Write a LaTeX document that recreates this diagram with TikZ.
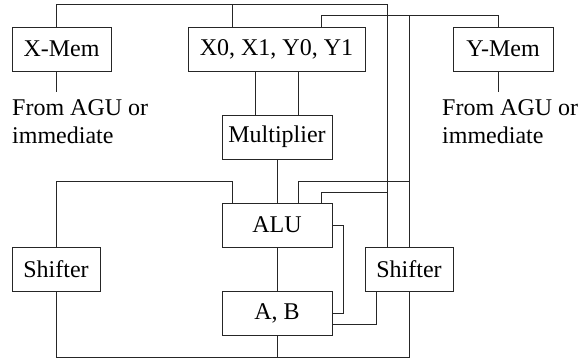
\documentclass[tikz,border=0pt]{standalone}
\usepackage{fontspec}
\setmainfont{Liberation Serif}
\begin{document}
\begin{tikzpicture}[x=1pt,y=-1pt,
  lbl/.style={font=\fontsize{24}{28}\selectfont, inner sep=0pt},
  box/.style={draw=black!85, line width=1pt, minimum height=44pt, inner sep=0pt, font=\fontsize{24}{28}\selectfont},
  wire/.style={draw=black!85, line width=1pt}]
\useasboundingbox (0,0) rectangle (582,360);
% boxes
\node[box, minimum width=99pt]  (xmem)   at (61.5,49) {X-Mem};
\node[box, minimum width=177pt] (regs)   at (276.5,49) {X0, X1, Y0, Y1};
\node[box, minimum width=100pt] (ymem)   at (503,49) {Y-Mem};
\node[box, minimum width=110pt] (mult)   at (277,137) {Multiplier};
\node[box, minimum width=110pt] (alu)    at (277,225) {ALU};
\node[box, minimum width=110pt] (ab)     at (277,313) {A, B};
\node[box, minimum width=88pt]  (lshift) at (56,269) {Shifter};
\node[box, minimum width=88pt]  (rshift) at (409,269) {Shifter};
% labels
\node[lbl, anchor=base west] (fl1) at (12,115) {From AGU or};
\node[lbl, anchor=base west] (fl2) at (12,143) {immediate};
\node[lbl, anchor=base west] (fr1) at (442,115) {From AGU or};
\node[lbl, anchor=base west] (fr2) at (442,143) {immediate};
% coordinates
\coordinate (xin) at (56,92);
\coordinate (yin) at (498,92);
\coordinate (t1) at (387,4.5);
\coordinate (t2) at (498,15.7);
\coordinate (j1) at (409,181);
\coordinate (j2) at (387,192);
\coordinate (j3) at (56,181);
\coordinate (bot) at (409,357);
% wires
\draw[wire] ([xshift=-5.5pt]xmem.north) |- (t1) -- ([xshift=-22pt]rshift.north);
\draw[wire] ([xshift=-44.5pt]regs.north) -- ++(0,-22.5);
\draw[wire] ([xshift=44.5pt]regs.north) |- (t2) -- ([xshift=-5pt]ymem.north);
\draw[wire] (rshift.north |- t2) -- (rshift.north);
\draw[wire] ([xshift=-5.5pt]xmem.south) -- (xin);
\draw[wire] ([xshift=-5pt]ymem.south) -- (yin);
\draw[wire] ([xshift=-21.5pt]regs.south) -- ([xshift=-22pt]mult.north);
\draw[wire] ([xshift=21.5pt]regs.south) -- ([xshift=21pt]mult.north);
\draw[wire] (mult.south) -- (alu.north);
\draw[wire] (alu.south) -- (ab.north);
\draw[wire] (ab.south) -- (ab.south |- bot);
\draw[wire] ([xshift=21pt]alu.north) |- (j1);
\draw[wire] ([xshift=44pt]alu.north) |- (j2);
\draw[wire] ([xshift=-45pt]alu.north) |- (j3) -- (lshift.north);
\draw[wire] (lshift.south) |- (bot) -- (rshift.south);
\draw[wire] (alu.east) -- ++(11,0) |- (ab.east);
\draw[wire] ([xshift=-33pt]rshift.south) |- ([yshift=-11pt]ab.east);
\end{tikzpicture}
\end{document}
